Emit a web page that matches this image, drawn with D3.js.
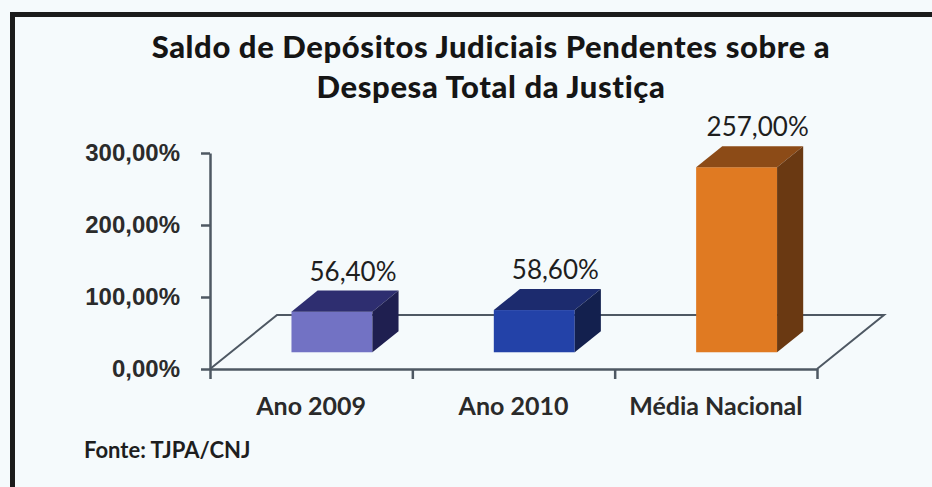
<!DOCTYPE html>
<html>
<head>
  <meta charset="utf-8">
  <title>Saldo de Depósitos Judiciais</title>
  <script src="https://d3js.org/d3.v7.min.js"></script>
  <style>
    body { margin: 0; background: #f5fafc; }
    svg { display: block; font-family: Lato, "Open Sans", sans-serif; }
    .axis path, .axis line { stroke: #4e5863; stroke-width: 2.5; fill: none; }
    .axis text { font-size: 24px; font-weight: 700; fill: #2b2b2b; }
  </style>
</head>
<body>
  <svg width="932" height="487"></svg>

  <script>
    // dados
    var categories = ["Ano 2009", "Ano 2010", "Média Nacional"];
    var values = [56.4, 58.6, 257.0];
    var barColors = ["#7272c4", "#2342a8", "#e07a22"];
    var topColors = ["#2e2e70", "#1c2b6e", "#8c4b17"];
    var sideColors = ["#1f1f50", "#13204e", "#6a3912"];
    var yTicks = [0, 100, 200, 300];
    var titleLines = ["Saldo de Depósitos Judiciais Pendentes sobre a", "Despesa Total da Justiça"];
    var fonte = "Fonte: TJPA/CNJ";

    var svg = d3.select("svg");
    var ptBR = d3.formatLocale({ decimal: ",", thousands: ".", grouping: [3], currency: ["R$", ""] });
    var fmt = function(v) { return ptBR.format(".2f")(v) + "%"; };

    // moldura preta (cortada à direita e embaixo)
    svg.append("path")
      .attr("d", "M12.5,487 L12.5,14.5 L932,14.5")
      .attr("fill", "none")
      .attr("stroke", "#1b1b1b")
      .attr("stroke-width", 5);

    // titulo
    svg.append("g").selectAll("text")
      .data(titleLines)
      .enter().append("text")
      .attr("x", 491)
      .attr("y", function(d, i) { return 58 + i * 40; })
      .attr("text-anchor", "middle")
      .style("font-size", "31px")
      .style("font-weight", 900)
      .style("letter-spacing", "0.6px")
      .style("fill", "#151515")
      .text(function(d) { return d; });

    // escalas
    var x = d3.scaleBand()
      .domain(categories)
      .range([210, 817])
      .paddingInner(0.6)
      .paddingOuter(0.3);

    var xEdge = d3.scaleLinear()
      .domain([0, categories.length])
      .range(x.range());

    var y = d3.scaleLinear()
      .domain([0, 300])
      .range([369, 153]);

    var depth = { dx: 67, dy: -54 };
    var f0 = 0.31, f1 = 0.70;

    // piso
    var floor = [
      [xEdge(0), y(0)],
      [xEdge(0) + depth.dx, y(0) + depth.dy],
      [xEdge(3) + depth.dx, y(0) + depth.dy],
      [xEdge(3), y(0)]
    ];
    svg.append("path")
      .attr("d", d3.line()(floor))
      .attr("fill", "none")
      .attr("stroke", "#4e5863")
      .attr("stroke-width", 2);

    // eixos
    svg.append("g")
      .attr("class", "axis")
      .attr("transform", "translate(210,0)")
      .call(d3.axisLeft(y).tickValues(yTicks).tickFormat(fmt).tickSize(9).tickSizeOuter(0).tickPadding(21));

    svg.append("g")
      .attr("class", "axis")
      .attr("transform", "translate(0," + y(0) + ")")
      .call(d3.axisBottom(xEdge).tickValues(d3.range(categories.length + 1)).tickFormat("").tickSize(10).tickSizeOuter(0));

    // barras 3D
    var bars = svg.append("g").selectAll("g")
      .data(values)
      .enter().append("g");

    var w = x.bandwidth();
    var ddx = (f1 - f0) * depth.dx, ddy = (f1 - f0) * depth.dy;

    function geom(d, i) {
      var xf = x(categories[i]) + f0 * depth.dx;
      var yb = y(0) + f0 * depth.dy;
      var yt = y(d) + f0 * depth.dy;
      return { xf: xf, yb: yb, yt: yt };
    }

    bars.append("rect")
      .attr("x", function(d, i) { return geom(d, i).xf; })
      .attr("y", function(d, i) { return geom(d, i).yt; })
      .attr("width", w)
      .attr("height", function(d, i) { var g = geom(d, i); return g.yb - g.yt; })
      .attr("fill", function(d, i) { return barColors[i]; });

    bars.append("path")
      .attr("d", function(d, i) {
        var g = geom(d, i);
        return d3.line()([[g.xf, g.yt], [g.xf + w, g.yt], [g.xf + w + ddx, g.yt + ddy], [g.xf + ddx, g.yt + ddy]]) + "Z";
      })
      .attr("fill", function(d, i) { return topColors[i]; });

    bars.append("path")
      .attr("d", function(d, i) {
        var g = geom(d, i);
        return d3.line()([[g.xf + w, g.yt], [g.xf + w + ddx, g.yt + ddy], [g.xf + w + ddx, g.yb + ddy], [g.xf + w, g.yb]]) + "Z";
      })
      .attr("fill", function(d, i) { return sideColors[i]; });

    // rotulos de dados
    bars.append("text")
      .attr("x", function(d, i) { return geom(d, i).xf + w / 2 + ddx / 2 + 8; })
      .attr("y", function(d, i) { return geom(d, i).yt + ddy - 10; })
      .attr("text-anchor", "middle")
      .style("font-size", "26px")
      .style("fill", "#1e1e1e")
      .text(function(d) { return fmt(d); });

    // categorias
    svg.append("g").selectAll("text")
      .data(categories)
      .enter().append("text")
      .attr("x", function(d) { return x(d) + w / 2; })
      .attr("y", 415)
      .attr("text-anchor", "middle")
      .style("font-size", "25px")
      .style("font-weight", 700)
      .style("fill", "#2a2a2a")
      .text(function(d) { return d; });

    // fonte
    svg.append("text")
      .attr("x", 84)
      .attr("y", 458)
      .style("font-size", "22px")
      .style("font-weight", 700)
      .style("fill", "#1e1e1e")
      .text(fonte);
  </script>
</body>
</html>
